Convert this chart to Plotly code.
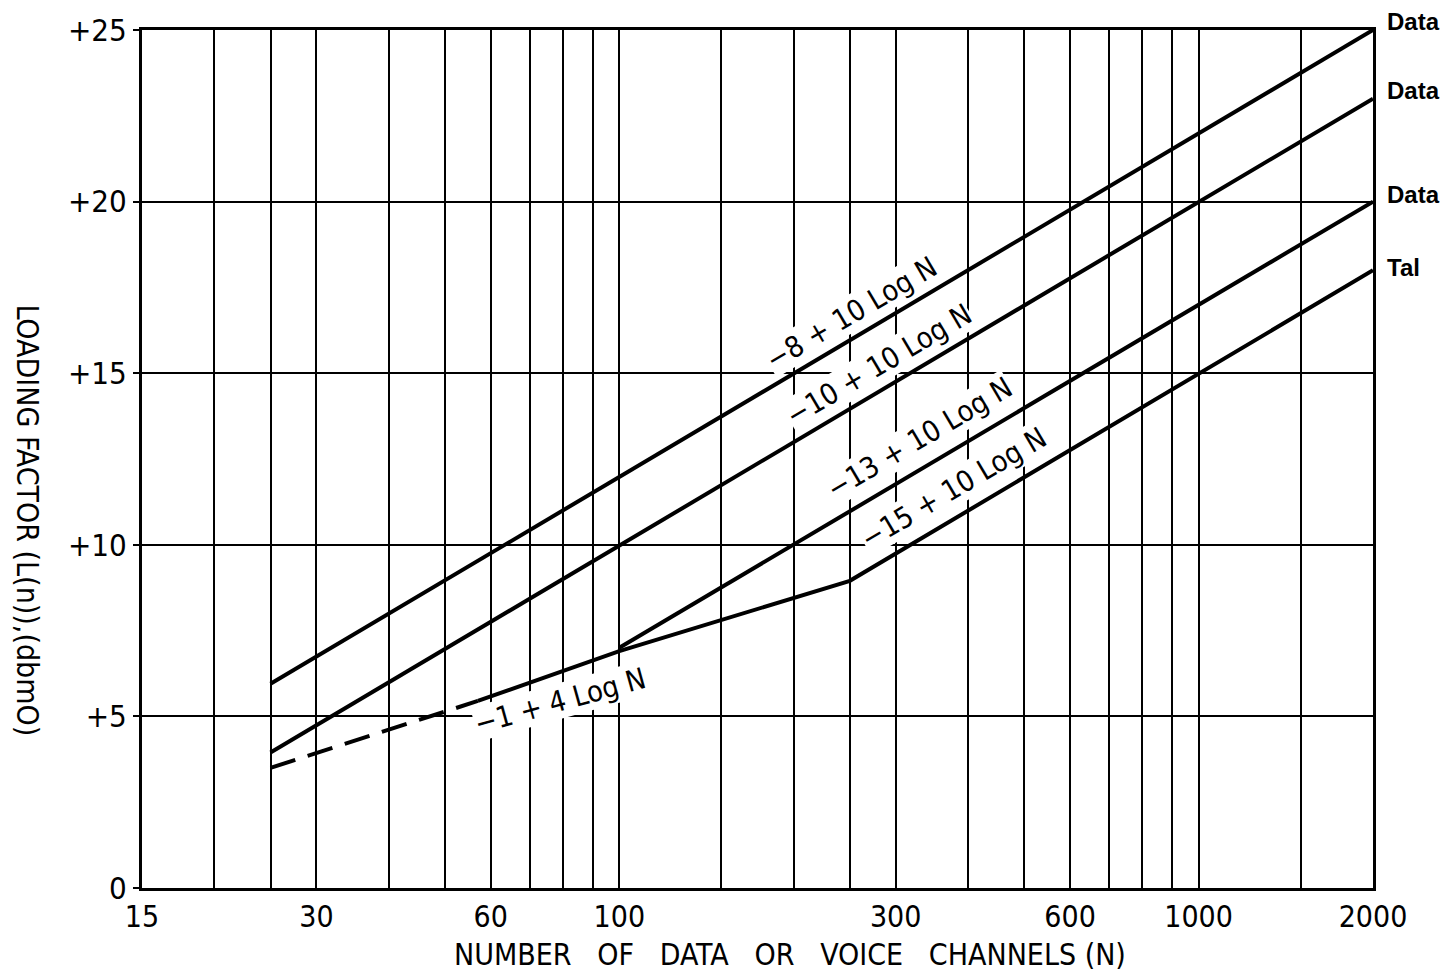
import numpy as np
import plotly.graph_objects as go

# ---- data ----
n_data1 = [25, 2000]
l_data1 = [5.95, 25.0]
n_data2 = [25, 2000]
l_data2 = [3.95, 23.0]
n_data3 = [100, 2000]
l_data3 = [7.0, 20.0]
n_tal_dash = [25, 57]
l_tal_dash = [3.5, 5.45]
n_tal = [57, 100, 250, 2000]
l_tal = [5.45, 6.9, 8.95, 18.0]

x_tick_vals = [15, 30, 60, 100, 300, 600, 1000, 2000]
x_tick_text = ["15", "30", "60", "100", "300", "600", "1000", "2000"]
x_grid_vals = [20, 25, 30, 40, 50, 60, 70, 80, 90, 100, 150, 200, 250,
               300, 400, 500, 600, 700, 800, 900, 1000, 1500]
y_tick_vals = [0, 5, 10, 15, 20, 25]
y_tick_text = ["0", "+5", "+10", "+15", "+20", "+25"]
Y_MAX = 25

right_labels = ["Data", "Data", "Data", "Tal"]
right_label_y = [25.25, 23.25, 20.2, 18.07]

line_labels = ["\u22128 + 10 Log N", "\u221210 + 10 Log N",
               "\u221213 + 10 Log N", "\u221215 + 10 Log N", "\u22121 + 4 Log N"]
line_label_n = [252, 280, 330, 378, 79]
line_label_l = [16.75, 15.25, 13.1, 11.65, 5.45]

FONT = "DejaVu Sans Condensed, DejaVu Sans, sans-serif"

fig = go.Figure()
line_style = dict(color="black", width=4)
for xs, ys in [(n_data1, l_data1), (n_data2, l_data2), (n_data3, l_data3), (n_tal, l_tal)]:
    fig.add_trace(go.Scatter(x=xs, y=ys, mode="lines", line=line_style,
                             showlegend=False, hoverinfo="skip"))
fig.add_trace(go.Scatter(x=n_tal_dash, y=l_tal_dash, mode="lines",
                         line=dict(color="black", width=4, dash="26px,13px"),
                         showlegend=False, hoverinfo="skip"))

annotations = []
for i, txt in enumerate(line_labels):
    ang = -15.5 if i == 4 else -30.6
    annotations.append(dict(x=np.log10(line_label_n[i]), y=line_label_l[i], xref="x", yref="y",
                            text=txt, showarrow=False, textangle=ang,
                            font=dict(family=FONT, size=29, color="black"),
                            bgcolor="white", borderpad=0))
for txt, yv in zip(right_labels, right_label_y):
    annotations.append(dict(x=1.0095, y=yv / Y_MAX, xref="paper", yref="paper",
                            text="<b>%s</b>" % txt,
                            showarrow=False, xanchor="left", yanchor="middle",
                            font=dict(family="Liberation Sans, Arial, sans-serif", size=24,
                                      color="black")))
annotations.append(dict(x=0.526, y=-0.078, xref="paper", yref="paper",
                        text="NUMBER   OF   DATA   OR   VOICE   CHANNELS (N)",
                        showarrow=False, xanchor="center", yanchor="middle",
                        font=dict(family=FONT, size=30, color="black")))
annotations.append(dict(x=-0.093, y=0.429, xref="paper", yref="paper",
                        text="LOADING FACTOR (L(n)),(dbmO)", textangle=90,
                        showarrow=False, xanchor="center", yanchor="middle",
                        font=dict(family=FONT, size=30, color="black")))

fig.update_layout(
    width=1440, height=968,
    margin=dict(l=134, r=75, t=22, b=88),
    paper_bgcolor="white", plot_bgcolor="white",
    annotations=annotations,
    xaxis=dict(type="log", range=[np.log10(15), np.log10(2000)],
               tickmode="array", tickvals=x_tick_vals, ticktext=x_tick_text,
               tickfont=dict(family=FONT, size=30, color="black"),
               showgrid=True, gridcolor="black", gridwidth=2,
               minor=dict(tickmode="array", tickvals=x_grid_vals, showgrid=True,
                          gridcolor="black", gridwidth=2, ticks=""),
               showline=True, linecolor="black", linewidth=3, mirror=True,
               ticks="", ticklabelstandoff=0, zeroline=False, automargin=False),
    yaxis=dict(range=[0, Y_MAX], tickmode="array", tickvals=y_tick_vals, ticktext=y_tick_text,
               tickfont=dict(family=FONT, size=31, color="black"),
               showgrid=True, gridcolor="black", gridwidth=2,
               showline=True, linecolor="black", linewidth=3, mirror=True,
               ticks="outside", ticklen=6, tickwidth=2, tickcolor="black",
               zeroline=False, automargin=False),
)

fig.write_html("out.html")
